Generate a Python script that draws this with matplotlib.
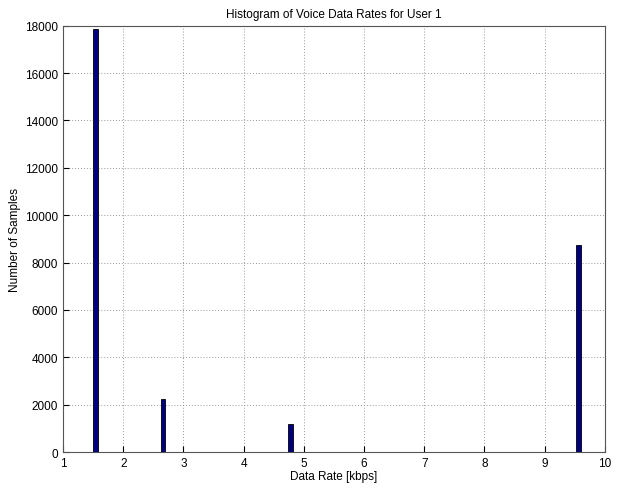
import numpy as np
import matplotlib
matplotlib.use('Agg')
import matplotlib.pyplot as plt

# histogram bin centres (kbps) and sample counts
rate_centres = [1.54, 2.66, 4.78, 9.56]
sample_counts = [17880, 2230, 1180, 8760]
bin_width = 0.081
x_ticks = [1, 2, 3, 4, 5, 6, 7, 8, 9, 10]
y_ticks = [0, 2000, 4000, 6000, 8000, 10000, 12000, 14000, 16000, 18000]

plt.rcParams['font.family'] = ['Liberation Sans', 'DejaVu Sans']

fig = plt.figure(figsize=(6.19, 4.89), dpi=100)
ax = fig.add_axes([0.102, 0.0736, 0.875, 0.8718])

ax.bar(rate_centres, sample_counts, width=bin_width, color='#000080',
       edgecolor='black', linewidth=0.6, zorder=3)

ax.set_xlim(1, 10)
ax.set_ylim(0, 18000)
ax.set_xticks(x_ticks)
ax.set_yticks(y_ticks)
ax.grid(True, linestyle=(0, (1, 2)), color='#999999', linewidth=0.7)
ax.tick_params(direction='in', labelsize=8.5, length=4, colors='black')
for spine in ax.spines.values():
    spine.set_edgecolor('#555555')
    spine.set_linewidth(0.8)

ax.set_title('Histogram of Voice Data Rates for User 1', fontsize=8.5, pad=6)
ax.set_xlabel('Data Rate [kbps]', fontsize=8.5, labelpad=1)
ax.set_ylabel('Number of Samples', fontsize=8.5, labelpad=3)

fig.savefig('out.png', dpi=100)
